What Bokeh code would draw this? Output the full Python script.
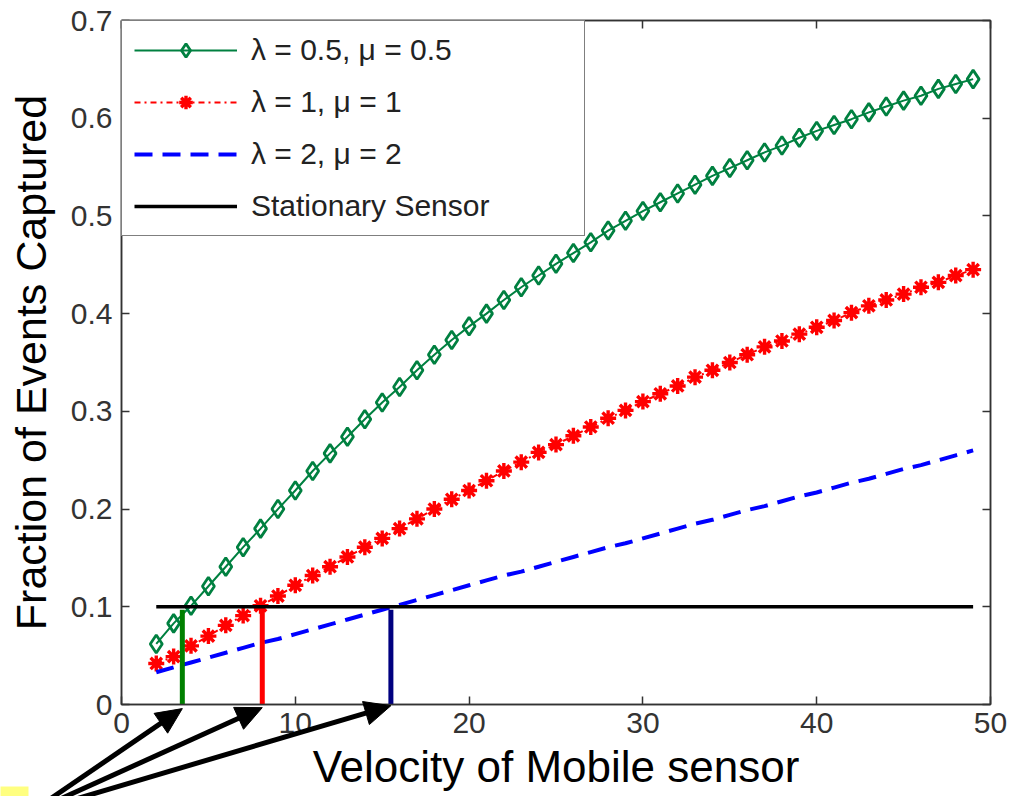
import math
from bokeh.plotting import figure
from bokeh.models import (LinearAxis, FixedTicker, CustomJSTickFormatter, Legend, LegendItem,
                          Range1d)
from bokeh.embed import file_html
from bokeh.resources import INLINE

# ---------------- data ----------------
velocity = list(range(2, 50))
frac_l05 = [0.062, 0.083, 0.101, 0.121, 0.141, 0.161, 0.180, 0.200, 0.219, 0.239,
            0.257, 0.274, 0.292, 0.309, 0.325, 0.342, 0.358, 0.373, 0.387, 0.400,
            0.414, 0.427, 0.439, 0.451, 0.462, 0.473, 0.485, 0.495, 0.505, 0.514,
            0.523, 0.532, 0.541, 0.549, 0.557, 0.565, 0.572, 0.580, 0.587, 0.593,
            0.599, 0.606, 0.612, 0.618, 0.623, 0.630, 0.635, 0.640]
frac_l1 = [0.042, 0.049, 0.060, 0.070, 0.081, 0.091, 0.101, 0.111, 0.122, 0.132,
           0.141, 0.151, 0.161, 0.170, 0.180, 0.190, 0.200, 0.210, 0.219, 0.229,
           0.239, 0.248, 0.258, 0.266, 0.275, 0.284, 0.293, 0.301, 0.310, 0.318,
           0.326, 0.335, 0.342, 0.350, 0.358, 0.366, 0.372, 0.379, 0.386, 0.393,
           0.401, 0.408, 0.414, 0.420, 0.427, 0.432, 0.439, 0.445]
frac_l2 = [0.033, 0.038, 0.043, 0.048, 0.053, 0.058, 0.063, 0.067, 0.072, 0.077,
           0.082, 0.087, 0.092, 0.097, 0.102, 0.107, 0.112, 0.117, 0.122, 0.127,
           0.132, 0.136, 0.141, 0.146, 0.151, 0.156, 0.161, 0.165, 0.170, 0.175,
           0.180, 0.185, 0.189, 0.194, 0.199, 0.203, 0.208, 0.213, 0.217, 0.222,
           0.227, 0.231, 0.236, 0.241, 0.245, 0.250, 0.255, 0.260]
stationary_level = 0.1
stationary_x = [2, 49]

crossing_v = [3.5, 8.1, 15.5]
crossing_top = 0.097
crossing_colors = ["#008000", "#ff0000", "#000080"]
arrow_tail = (-5.24, -0.1105)
arrow_tip_y = [-0.0042, -0.0032, -0.0012]

x_ticks = [0, 10, 20, 30, 40, 50]
y_ticks = [0, 0.1, 0.2, 0.3, 0.4, 0.5, 0.6, 0.7]
legend_labels = ["\u03bb = 0.5, \u03bc = 0.5", "\u03bb = 1, \u03bc = 1",
                 "\u03bb = 2, \u03bc = 2", "Stationary Sensor"]
x_title = "Velocity of Mobile sensor"
y_title = "Fraction of Events Captured"

FONT = "Liberation Sans"
AX = "#333333"
W, H = 1012, 796
BL, BR, BT, BB = 121, 22, 20, 92
FW, FH = W - BL - BR, H - BT - BB
X0, X1, Y0, Y1 = 0, 50, 0, 0.7
SX, SY = FW / (X1 - X0), FH / (Y1 - Y0)

p = figure(width=W, height=H, output_backend="svg", toolbar_location=None,
           x_range=Range1d(X0, X1), y_range=Range1d(Y0, Y1),
           min_border_left=BL, min_border_right=BR, min_border_top=BT, min_border_bottom=BB)
p.grid.visible = False
p.background_fill_color = "white"
p.border_fill_color = "white"
p.outline_line_color = AX
p.outline_line_width = 1.5

for ax in (p.xaxis[0], p.yaxis[0]):
    ax.major_tick_in = 8
    ax.major_tick_out = 0
    ax.minor_tick_line_color = None
    ax.axis_line_color = AX
    ax.axis_line_width = 1.5
    ax.major_tick_line_color = AX
    ax.major_tick_line_width = 1.5
    ax.major_label_text_font = FONT
    ax.major_label_text_font_size = "30px"
    ax.major_label_text_color = "#333333"
    ax.axis_label_text_font = FONT
    ax.axis_label_text_font_style = "normal"
    ax.axis_label_text_color = "black"

p.xaxis.ticker = FixedTicker(ticks=x_ticks)
p.yaxis.ticker = FixedTicker(ticks=y_ticks)
p.yaxis.formatter = CustomJSTickFormatter(code="return String(Math.round(tick*10)/10);")
p.xaxis.major_label_standoff = 8
p.yaxis.major_label_standoff = 9
p.xaxis.axis_label = x_title
p.xaxis.axis_label_standoff = 6
p.xaxis.axis_label_text_font_size = "44px"
p.xaxis.axis_label_text_line_height = 1.0
p.xaxis.major_label_text_line_height = 1.0
p.yaxis.axis_label = y_title
p.yaxis.axis_label_standoff = 13
p.yaxis.axis_label_text_font_size = "43px"

for loc in ("above", "right"):
    ax = LinearAxis(ticker=FixedTicker(ticks=x_ticks if loc == "above" else y_ticks),
                    major_tick_in=8, major_tick_out=0, minor_tick_line_color=None,
                    major_label_text_font_size="1px", major_label_text_color=None,
                    major_label_standoff=0,
                    axis_line_color=AX, axis_line_width=1.5,
                    major_tick_line_color=AX, major_tick_line_width=1.5)
    p.add_layout(ax, loc)

# curves
g_line = p.line(velocity, frac_l05, line_color="#008040", line_width=2)
g_mark = p.scatter(velocity, frac_l05, marker="diamond", size=18, line_color="#008040",
                   line_width=2.8, fill_color=None)
r_line = p.line(velocity, frac_l1, line_color="#ff0000", line_width=2, line_dash="dashdot")
r_mark = p.scatter(velocity, frac_l1, marker="asterisk", size=16, line_color="#ff0000",
                   line_width=3.4)
b_line = p.line(velocity, frac_l2, line_color="#0000ff", line_width=4, line_dash="18 10")
s_line = p.line(stationary_x, [stationary_level] * len(stationary_x), line_color="black",
                line_width=3.5)

# vertical crossing markers
p.segment(x0=crossing_v, y0=[0] * len(crossing_v), x1=crossing_v,
          y1=[crossing_top] * len(crossing_v), line_color=crossing_colors, line_width=5)

# arrows: shafts + triangular heads (geometry in pixels, converted to data units),
# drawn at overlay level so that they may extend below the axes box
HEAD_L, HEAD_W = 26, 24
shaft_x1, shaft_y1 = [], []
for xv, yv in zip(crossing_v, arrow_tip_y):
    dx = (xv - arrow_tail[0]) * SX
    dy = (yv - arrow_tail[1]) * SY
    n = math.hypot(dx, dy)
    ux, uy = dx / n, dy / n
    bx, by = -ux * HEAD_L, -uy * HEAD_L
    qx, qy = -uy * HEAD_W / 2, ux * HEAD_W / 2
    shaft_x1.append(xv + bx * 0.6 / SX)
    shaft_y1.append(yv + by * 0.6 / SY)
    p.patch(x=[xv, xv + (bx + qx) / SX, xv + (bx - qx) / SX],
            y=[yv, yv + (by + qy) / SY, yv + (by - qy) / SY],
            fill_color="black", line_color="black", line_width=1, level="overlay")

p.segment(x0=[arrow_tail[0]] * len(crossing_v), y0=[arrow_tail[1]] * len(crossing_v),
          x1=shaft_x1, y1=shaft_y1, line_color="black", line_width=5, level="overlay")

# small yellow patch in the bottom-left corner
p.quad(left=[(0 - BL) / SX], right=[(28 - BL) / SX],
       bottom=[-(H - BT - FH) / SY], top=[-(786 - BT - FH) / SY],
       fill_color="#ffff80", line_alpha=0, level="overlay")

legend = Legend(items=[
    LegendItem(label=legend_labels[0], renderers=[g_line, g_mark]),
    LegendItem(label=legend_labels[1], renderers=[r_line, r_mark]),
    LegendItem(label=legend_labels[2], renderers=[b_line]),
    LegendItem(label=legend_labels[3], renderers=[s_line]),
], location="top_left", margin=0, padding=12, spacing=18,
    label_height=34, glyph_height=34, glyph_width=103, label_standoff=14, label_width=321,
    label_text_font=FONT, label_text_font_size="30px", label_text_color="#222222",
    border_line_color="black", border_line_width=1.5,
    background_fill_color="white", background_fill_alpha=1.0)
p.add_layout(legend)

open("out.html", "w").write(file_html(p, INLINE))
